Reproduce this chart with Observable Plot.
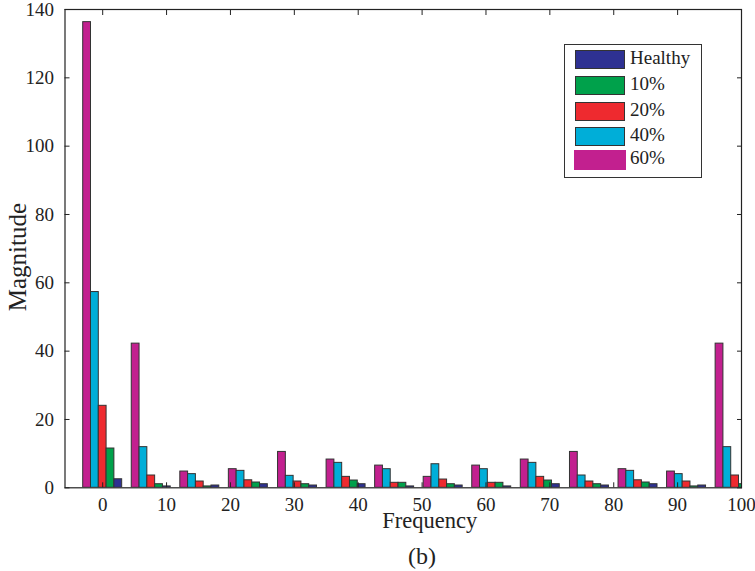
<!DOCTYPE html>
<html><head><meta charset="utf-8">
<script src="https://cdn.jsdelivr.net/npm/d3@7"></script>
<script src="https://cdn.jsdelivr.net/npm/@observablehq/plot@0.6"></script>
<style>
body{margin:0;background:#fff;font-family:"Liberation Serif","Times New Roman",serif;color:#222;}
#wrap{position:relative;width:755px;height:571px;overflow:hidden;}
#chart svg, #chart svg text{font-family:"Liberation Serif","Times New Roman",serif !important;}
#legend{position:absolute;left:564px;top:44px;width:136px;height:132px;border:1.5px solid #333;background:#fff;}
.item{position:absolute;left:10px;height:19px;}
.sw{position:absolute;left:0;top:0;width:48px;height:17px;border:1px solid #333;}
.lab{position:absolute;left:55px;top:-3px;font-size:19px;line-height:22px;white-space:nowrap;}
#cap{position:absolute;left:0;width:844px;top:544px;text-align:center;font-size:24px;line-height:24px;}
</style></head><body>
<div id="wrap"><div id="chart"></div><div id="legend"></div><div id="cap">(b)</div></div>
<script>
// Series (legend order) and colours
const series = ["Healthy", "10%", "20%", "40%", "60%"];
const colors = ["#2E3192", "#00A14B", "#EE2A2F", "#00AED8", "#C2208F"];
// Left-to-right order of bars inside each group
const barOrder = ["60%", "40%", "20%", "10%", "Healthy"];

// Group centre frequencies
const freqs = [0, 7.6, 15.2, 22.8, 30.5, 38.1, 45.7, 53.3, 60.9, 68.5, 76.2, 83.8, 91.4, 99.0];

// Magnitudes per series
const healthy = [2.5, 0.4, 0.67, 1.05, 0.67, 1.05, 0.4, 0.67, 0.4, 1.05, 0.67, 1.05, 0.67, 0.4];
const p10     = [11.5, 1.05, 0.4, 1.55, 1.05, 2.13, 1.46, 1.05, 1.46, 2.13, 1.05, 1.55, 0.4, 1.05];
const p20     = [24.0, 3.6, 1.84, 2.2, 1.84, 3.2, 1.46, 2.42, 1.46, 3.2, 1.84, 2.2, 1.84, 3.6];
const p40     = [57.3, 11.9, 4.0, 4.96, 3.5, 7.3, 5.45, 6.9, 5.45, 7.3, 3.6, 4.96, 4.0, 11.9];
const p60     = [136.3, 42.2, 4.76, 5.45, 10.5, 8.27, 6.5, 3.2, 6.5, 8.27, 10.5, 5.45, 4.76, 42.2];

const xTicks = [0, 10, 20, 30, 40, 50, 60, 70, 80, 90, 100];
const yTicks = [0, 20, 40, 60, 80, 100, 120, 140];

const values = {"Healthy": healthy, "10%": p10, "20%": p20, "40%": p40, "60%": p60};
const barW = 1.22;
const rows = [];
freqs.forEach((f, i) => {
  barOrder.forEach((s, j) => {
    rows.push({series: s, x1: f + (j - 2.5) * barW, x2: f + (j - 1.5) * barW, y: values[s][i]});
  });
});

const chart = Plot.plot({
  width: 755, height: 535,
  marginTop: 9, marginBottom: 47.7, marginLeft: 64.5, marginRight: 14,
  style: 'font-family: "Liberation Serif", "Times New Roman", serif; color: #222; background: #fff;',
  x: {domain: [-5.9, 100]},
  y: {domain: [0, 140]},
  color: {domain: series, range: colors},
  marks: [
    Plot.rectY(rows, {x1: "x1", x2: "x2", y: "y", fill: "series", stroke: "#333", strokeWidth: 1, clip: true}),
    Plot.axisY({ticks: yTicks, tickSize: -5, tickPadding: 16, fontSize: 19, label: null}),
    Plot.axisY({anchor: "right", ticks: yTicks, tickSize: -5, tickFormat: () => "", label: null}),
    Plot.axisX({ticks: xTicks, tickSize: -5, tickPadding: 15, fontSize: 19, label: null}),
    Plot.axisX({anchor: "top", ticks: xTicks, tickSize: -5, tickFormat: () => "", label: null}),
    Plot.frame({stroke: "#222", strokeWidth: 1.2}),
    Plot.text(["Frequency"], {frameAnchor: "bottom", textAnchor: "middle", dx: 26.5, dy: 24, lineAnchor: "top", fontSize: 22.5, fill: "#222"}),
    Plot.text(["Magnitude"], {frameAnchor: "left", textAnchor: "middle", lineAnchor: "middle", dx: -47.5, dy: 8.5, rotate: -90, fontSize: 25, fill: "#222"})
  ]
});
document.getElementById("chart").appendChild(chart);

// Legend
const legend = document.getElementById("legend");
const tops = [5, 31, 57, 82, 105];
series.forEach((s, i) => {
  const it = document.createElement("div");
  it.className = "item";
  it.style.top = tops[i] + "px";
  const sw = document.createElement("div");
  sw.className = "sw";
  sw.style.background = colors[i];
  if (s === "60%") { sw.style.border = "none"; sw.style.width = "52px"; sw.style.height = "20px"; sw.style.left = "-1px"; }
  const lab = document.createElement("div");
  lab.className = "lab";
  lab.textContent = s;
  it.appendChild(sw); it.appendChild(lab);
  legend.appendChild(it);
});
</script>
</body></html>
